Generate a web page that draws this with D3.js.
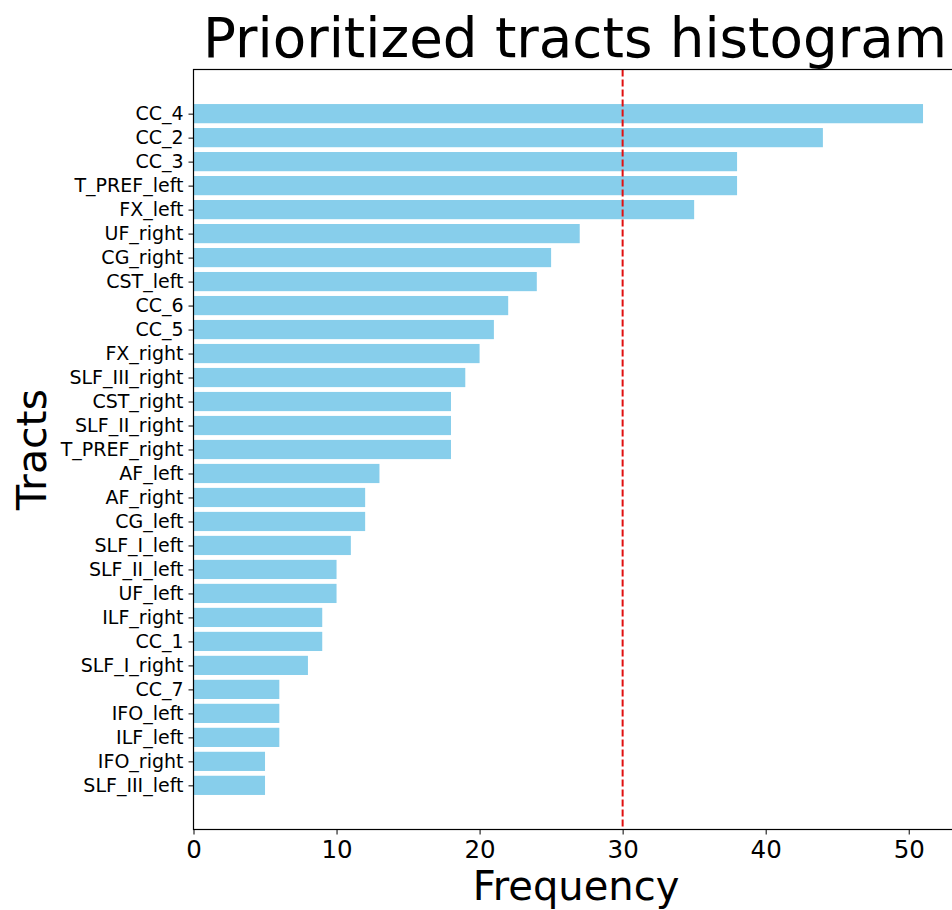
<!DOCTYPE html>
<html>
<head>
<meta charset="utf-8">
<script src="https://cdn.jsdelivr.net/npm/d3@7"></script>
<style>
  html, body { margin: 0; padding: 0; background: #fff; }
  svg { display: block; font-family: "DejaVu Sans", sans-serif; }
</style>
</head>
<body>
<svg id="chart" width="952" height="910"></svg>
<script>
// Tract names, top to bottom
const tracts = [
  "CC_4", "CC_2", "CC_3", "T_PREF_left", "FX_left", "UF_right", "CG_right",
  "CST_left", "CC_6", "CC_5", "FX_right", "SLF_III_right", "CST_right",
  "SLF_II_right", "T_PREF_right", "AF_left", "AF_right", "CG_left",
  "SLF_I_left", "SLF_II_left", "UF_left", "ILF_right", "CC_1", "SLF_I_right",
  "CC_7", "IFO_left", "ILF_left", "IFO_right", "SLF_III_left"
];
// How often each tract was prioritized
const frequency = [
  51, 44, 38, 38, 35, 27, 25, 24, 22, 21, 20, 19, 18, 18, 18,
  13, 12, 12, 11, 10, 10, 9, 9, 8, 6, 6, 6, 5, 5
];
const xTicks = [0, 10, 20, 30, 40, 50];
const threshold = 30;

const svg = d3.select("#chart");
const plot = { left: 193.5, top: 69.5, width: 766, height: 760 };

// Vertical positions with matplotlib-like padding around the bars
const n = tracts.length;
const y = d3.scaleLinear()
  .domain([-1.84, n - 1 + 1.84])
  .range([plot.top, plot.top + plot.height]);
const barH = y(0.4) - y(-0.4);

const xMax = d3.max(frequency) * 1.05;
const x = d3.scaleLinear().domain([0, xMax]).range([plot.left, plot.left + plot.width]);

const g = svg.append("g");

// Bars
g.selectAll("rect.bar")
  .data(frequency)
  .enter().append("rect")
  .attr("class", "bar")
  .attr("x", x(0))
  .attr("y", (d, i) => y(i) - barH / 2)
  .attr("width", d => x(d) - x(0))
  .attr("height", barH)
  .attr("fill", "#87CEEB");

// Threshold line
g.append("line")
  .attr("x1", x(threshold)).attr("x2", x(threshold))
  .attr("y1", plot.top).attr("y2", plot.top + plot.height)
  .attr("stroke", "#e01010")
  .attr("stroke-width", 2)
  .attr("stroke-dasharray", "7,3");

// Frame
g.append("rect")
  .attr("x", plot.left).attr("y", plot.top)
  .attr("width", plot.width).attr("height", plot.height)
  .attr("fill", "none").attr("stroke", "#000").attr("stroke-width", 1.2);

// X axis
const xAxis = d3.axisBottom(x).tickValues(xTicks).tickSize(5).tickPadding(6);
const xg = g.append("g")
  .attr("transform", `translate(0,${plot.top + plot.height})`)
  .call(xAxis);
xg.select(".domain").remove();
xg.selectAll("text").attr("font-size", 24.5).attr("fill", "#000")
  .attr("font-family", "DejaVu Sans, sans-serif");
xg.selectAll("line").attr("stroke", "#000");

// Y axis
const yAxis = d3.axisLeft(y).tickValues(d3.range(n))
  .tickFormat(i => tracts[i]).tickSize(5).tickPadding(5);
const yg = g.append("g")
  .attr("transform", `translate(${plot.left},0)`)
  .call(yAxis);
yg.select(".domain").remove();
yg.selectAll("text").attr("font-size", 19).attr("fill", "#000")
  .attr("font-family", "DejaVu Sans, sans-serif");
yg.selectAll("line").attr("stroke", "#000");

// Title
svg.append("text")
  .attr("x", 575)
  .attr("y", 57)
  .attr("text-anchor", "middle")
  .attr("font-size", 54.7)
  .attr("fill", "#000")
  .text("Prioritized tracts histogram");

// Axis labels
svg.append("text")
  .attr("x", 576)
  .attr("y", 900)
  .attr("text-anchor", "middle")
  .attr("font-size", 40)
  .attr("fill", "#000")
  .text("Frequency");

svg.append("text")
  .attr("transform", `translate(46,${plot.top + plot.height / 2}) rotate(-90)`)
  .attr("text-anchor", "middle")
  .attr("font-size", 41)
  .attr("fill", "#000")
  .text("Tracts");
</script>
</body>
</html>
